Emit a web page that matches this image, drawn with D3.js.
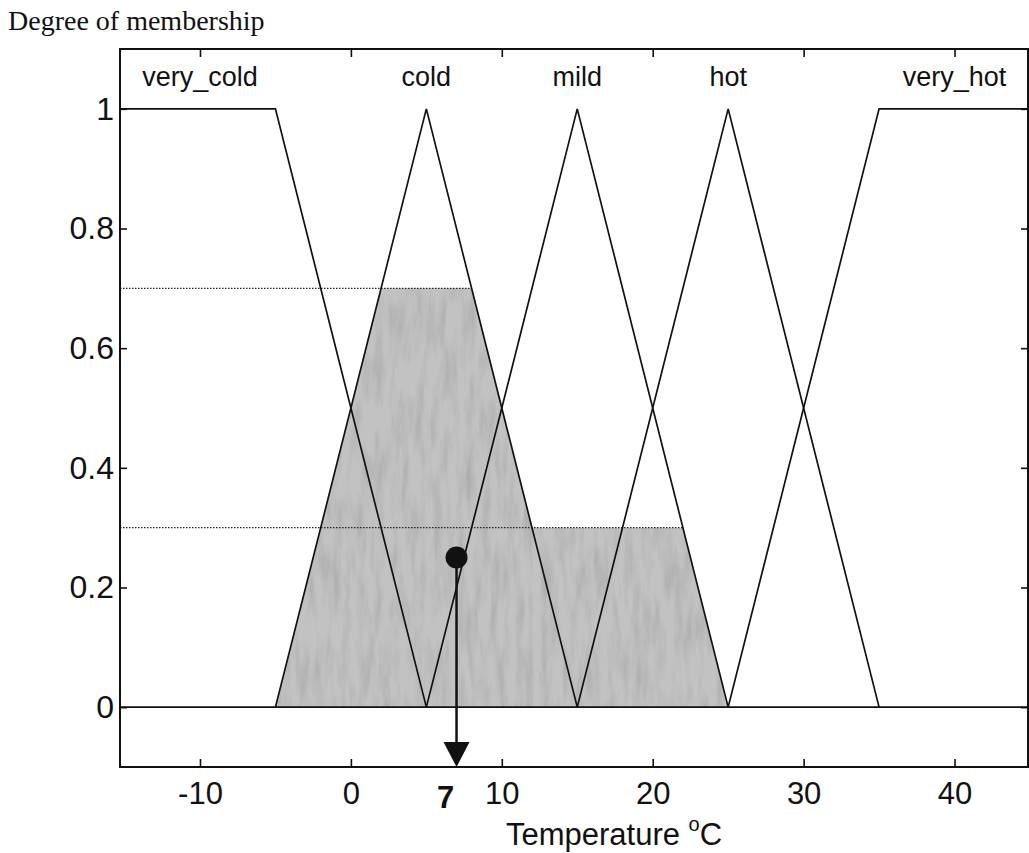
<!DOCTYPE html>
<html>
<head>
<meta charset="utf-8">
<script src="https://cdn.jsdelivr.net/npm/d3@7"></script>
<style>
  html, body { margin: 0; padding: 0; background: #fff; }
  svg { display: block; }
</style>
</head>
<body>
<svg id="chart" width="1029" height="853"></svg>
<script>
// Fuzzy sets for temperature (breakpoints in °C, membership degree)
const setNames = ["very_cold", "cold", "mild", "hot", "very_hot"];
const veryColdPts = [[-15.3, 1], [-5, 1], [5, 0]];
const coldPts = [[-5, 0], [5, 1], [15, 0]];
const mildPts = [[5, 0], [15, 1], [25, 0]];
const hotPts = [[15, 0], [25, 1], [35, 0]];
const veryHotPts = [[25, 0], [35, 1], [45.2, 1]];
const setLabelX = [-10, 5, 15, 25, 40];

// Rule firing strengths and defuzzified output
const coldStrength = 0.7;
const mildStrength = 0.3;
const outputValue = 7;
const outputMarkerY = 0.25;

// Axis ticks
const xTicks = [-10, 0, 10, 20, 30, 40];
const xTickLabels = ["-10", "0", "10", "20", "30", "40"];
const yTicks = [0, 0.2, 0.4, 0.6, 0.8, 1];
const yTickLabels = ["0", "0.2", "0.4", "0.6", "0.8", "1"];

(function draw() {
  const svg = d3.select("#chart");
  const plotLeft = 120, plotRight = 1028, plotTop = 49, plotBottom = 767;
  const sans = "Liberation Sans, Arial, sans-serif";

  const x = d3.scaleLinear().domain([-15.3, 45.2]).range([plotLeft, 1033]);
  const y = d3.scaleLinear().domain([-0.1, 1.1]).range([plotBottom, plotTop]);

  // Texture for the aggregated output area
  const defs = svg.append("defs");
  const grain = defs.append("filter").attr("id", "grain")
    .attr("x", 0).attr("y", 0).attr("width", 1).attr("height", 1);
  grain.append("feTurbulence").attr("type", "fractalNoise")
    .attr("baseFrequency", "0.12 0.02").attr("numOctaves", 3).attr("seed", 11).attr("result", "noise");
  grain.append("feColorMatrix").attr("in", "noise").attr("type", "matrix")
    .attr("values", "0 0 0 0 0.4  0 0 0 0 0.4  0 0 0 0 0.4  1.6 0 0 0 -0.62")
    .attr("result", "tint");
  grain.append("feComposite").attr("in", "tint").attr("in2", "SourceGraphic").attr("operator", "in").attr("result", "spots");
  const merge = grain.append("feMerge");
  merge.append("feMergeNode").attr("in", "SourceGraphic");
  merge.append("feMergeNode").attr("in", "spots");

  // Membership evaluation for a piecewise-linear set
  function mu(pts, v) {
    if (v <= pts[0][0]) return pts[0][1];
    for (let i = 1; i < pts.length; i++) {
      if (v <= pts[i][0]) {
        const [x0, y0] = pts[i - 1], [x1, y1] = pts[i];
        return y0 + (y1 - y0) * (v - x0) / (x1 - x0);
      }
    }
    return pts[pts.length - 1][1];
  }

  // Aggregated (max of clipped) output set
  const aggX = d3.range(-5, 25.001, 0.25);
  const agg = aggX.map(v => [v, Math.max(Math.min(mu(coldPts, v), coldStrength),
                                          Math.min(mu(mildPts, v), mildStrength))]);

  svg.append("path")
    .datum(agg)
    .attr("d", d3.area().x(d => x(d[0])).y0(y(0)).y1(d => y(d[1])))
    .attr("fill", "#c2c2c2")
    .attr("filter", "url(#grain)");

  // Dotted guides for the firing strengths
  const guides = [[coldStrength, 15 - coldStrength * 10], [mildStrength, 25 - mildStrength * 10]];
  svg.selectAll(".guide").data(guides).join("line")
    .attr("class", "guide")
    .attr("x1", plotLeft).attr("x2", d => x(d[1]))
    .attr("y1", d => y(d[0])).attr("y2", d => y(d[0]))
    .attr("stroke", "#222").attr("stroke-width", 1.4).attr("stroke-dasharray", "1.5,1.5");

  // Membership function lines
  const line = d3.line().x(d => x(d[0])).y(d => y(d[1]));
  svg.selectAll(".mf").data([veryColdPts, coldPts, mildPts, hotPts, veryHotPts]).join("path")
    .attr("class", "mf")
    .attr("d", line)
    .attr("fill", "none").attr("stroke", "#111").attr("stroke-width", 1.7);

  // Zero baseline
  svg.append("line")
    .attr("x1", plotLeft).attr("x2", plotRight).attr("y1", y(0)).attr("y2", y(0))
    .attr("stroke", "#111").attr("stroke-width", 1.8);

  // Plot frame
  svg.append("rect")
    .attr("x", plotLeft).attr("y", plotTop).attr("width", plotRight - plotLeft).attr("height", plotBottom - plotTop)
    .attr("fill", "none").attr("stroke", "#111").attr("stroke-width", 2);

  // Axes with inward ticks
  const xAxis = svg.append("g").attr("transform", `translate(0,${plotBottom})`)
    .call(d3.axisBottom(x).tickValues(xTicks).tickSize(-8).tickPadding(15).tickFormat((d, i) => xTickLabels[i]));
  const xTop = svg.append("g").attr("transform", `translate(0,${plotTop})`)
    .call(d3.axisTop(x).tickValues(xTicks).tickSize(-8).tickFormat(""));
  const yAxis = svg.append("g").attr("transform", `translate(${plotLeft},0)`)
    .call(d3.axisLeft(y).tickValues(yTicks).tickSize(-7).tickPadding(6).tickFormat((d, i) => yTickLabels[i]));
  const yRight = svg.append("g").attr("transform", `translate(${plotRight},0)`)
    .call(d3.axisRight(y).tickValues(yTicks).tickSize(-7).tickFormat(""));

  [xAxis, xTop, yAxis, yRight].forEach(g => {
    g.select(".domain").remove();
    g.selectAll(".tick line").attr("stroke", "#111").attr("stroke-width", 1.6);
  });
  xAxis.selectAll(".tick text")
    .attr("font-family", sans).attr("font-size", 31).attr("fill", "#111")
    .attr("dy", "0.71em");
  yAxis.selectAll(".tick text")
    .attr("font-family", sans).attr("font-size", 32).attr("fill", "#111");

  // Set names
  svg.selectAll(".setname").data(setNames).join("text")
    .attr("class", "setname")
    .attr("x", (d, i) => x(setLabelX[i])).attr("y", 86)
    .attr("text-anchor", "middle")
    .attr("font-family", sans).attr("font-size", 27).attr("fill", "#111")
    .text(d => d);

  // Defuzzified output marker and arrow
  svg.append("line")
    .attr("x1", x(outputValue)).attr("x2", x(outputValue))
    .attr("y1", y(outputMarkerY)).attr("y2", plotBottom - 22)
    .attr("stroke", "#111").attr("stroke-width", 2.5);
  svg.append("path")
    .attr("d", `M${x(outputValue) - 13},${plotBottom - 25}L${x(outputValue) + 13},${plotBottom - 25}L${x(outputValue)},${plotBottom}Z`)
    .attr("fill", "#111");
  svg.append("circle")
    .attr("cx", x(outputValue)).attr("cy", y(outputMarkerY)).attr("r", 11)
    .attr("fill", "#111");
  svg.append("text")
    .attr("x", x(outputValue) - 11).attr("y", 808)
    .attr("text-anchor", "middle")
    .attr("font-family", sans).attr("font-size", 31).attr("font-weight", "bold")
    .attr("fill", "#111")
    .text(outputValue);

  // Axis titles
  const xTitle = svg.append("text")
    .attr("x", 614).attr("y", 845).attr("text-anchor", "middle")
    .attr("font-family", sans).attr("font-size", 31).attr("fill", "#111");
  xTitle.append("tspan").text("Temperature ");
  xTitle.append("tspan").attr("font-size", 20).attr("dy", -14).text("o");
  xTitle.append("tspan").attr("dy", 14).text("C");

  svg.append("text")
    .attr("x", 8).attr("y", 30)
    .attr("font-family", "Liberation Serif, Times New Roman, serif").attr("font-size", 28).attr("fill", "#111")
    .text("Degree of membership");
})();
</script>
</body>
</html>
